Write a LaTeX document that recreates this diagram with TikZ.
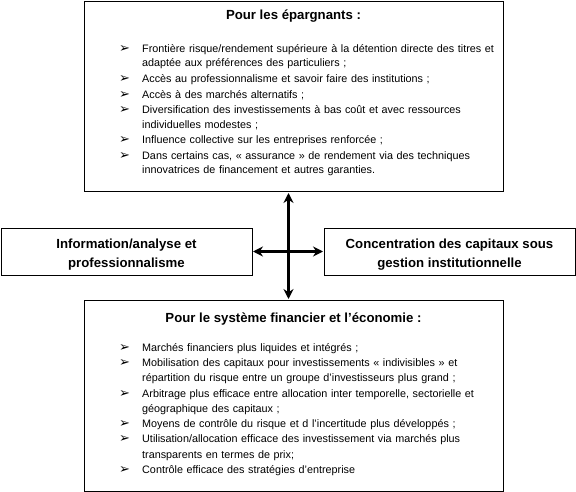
\documentclass[tikz,border=0pt]{standalone}
\usepackage{fontspec}
\setmainfont{Liberation Sans}
\newfontfamily\symfont{DejaVu Sans}
\usetikzlibrary{arrows.meta}
\newcommand\bul{{\symfont\fontsize{13}{13}\selectfont ➢}}
\newcommand\itm[1]{\par\hangindent=23pt\hangafter=1\noindent\makebox[23pt][l]{\bul}#1\par}
\tikzset{
  box/.style={draw=black, line width=1pt, inner sep=0pt},
  ttl/.style={font=\fontsize{13.2}{16}\selectfont\bfseries, inner sep=0pt, anchor=base},
  side/.style={font=\fontsize{13.2}{19}\selectfont\bfseries, inner sep=0pt, align=center, anchor=base},
  lst/.style={inner sep=0pt, anchor=north west, text width=385pt, align=left},
  dbl/.style={line width=2.4pt, {Stealth[length=10pt,width=10pt]}-{Stealth[length=10pt,width=10pt]}, shorten <=0.5pt, shorten >=0.5pt}
}
\begin{document}
\begin{tikzpicture}[x=1pt,y=-1pt]
\useasboundingbox (0,0) rectangle (576,492);
% boxes
\node[box, minimum width=419pt, minimum height=190pt] (top) at (293.5,97) {};
\node[box, minimum width=419pt, minimum height=191pt] (bot) at (293.5,395.5) {};
\node[box, minimum width=251pt, minimum height=47pt] (left) at (126.5,251.5) {};
\node[box, minimum width=251pt, minimum height=47pt] (right) at (449.5,251.5) {};
% titles
\node[ttl] (ttop) at (293.5,20) {Pour les épargnants :};
\node[ttl] (tbot) at (293.5,322) {Pour le système financier et l’économie :};
\node[side] (tleft) at (126.5,267) {Information/analyse et\\professionnalisme};
\node[side] (tright) at (449.5,267) {Concentration des capitaux sous\\gestion institutionnelle};
% lists
\node[lst, font=\fontsize{10.8}{14.3}\selectfont] (ltop) at (119,38) {\parskip=0pt
\itm{\rule{0pt}{10pt}Frontière risque/rendement supérieure à la détention directe des titres et\newline adaptée aux préférences des particuliers ;}\parskip=1.4pt
\itm{Accès au professionnalisme et savoir faire des institutions ;}
\itm{Accès à des marchés alternatifs ;}
\itm{Diversification des investissements à bas coût et avec ressources\newline individuelles modestes ;}
\itm{Influence collective sur les entreprises renforcée ;}
\itm{Dans certains cas, « assurance » de rendement via des techniques\newline innovatrices de financement et autres garanties.}};
\node[lst, font=\fontsize{10.8}{15.25}\selectfont] (lbot) at (119,336) {\parskip=0pt
\itm{\rule{0pt}{10pt}Marchés financiers plus liquides et intégrés ;}
\itm{Mobilisation des capitaux pour investissements « indivisibles » et\newline répartition du risque entre un groupe d’investisseurs plus grand ;}
\itm{Arbitrage plus efficace entre allocation inter temporelle, sectorielle et\newline géographique des capitaux ;}
\itm{Moyens de contrôle du risque et d l’incertitude plus développés ;}
\itm{Utilisation/allocation efficace des investissement via marchés plus\newline transparents en termes de prix;}
\itm{Contrôle efficace des stratégies d’entreprise}};
% arrows
\draw[dbl] (top.south -| 288.5,0) -- (bot.north -| 288.5,0);
\draw[dbl] (left.east) -- (right.west);
\end{tikzpicture}
\end{document}
